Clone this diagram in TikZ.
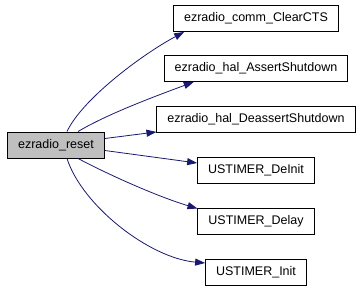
\documentclass[tikz,border=0pt]{standalone}
\usepackage{fontspec}
\setmainfont{Liberation Sans}
\usetikzlibrary{arrows.meta}

\definecolor{callblue}{HTML}{191970}
\definecolor{rootgray}{HTML}{BFBFBF}

\begin{document}
\begin{tikzpicture}[x=1pt, y=-1pt,
    fn/.style={draw=black, line width=0.9pt, fill=white, inner xsep=10.5pt,
               minimum height=26pt, font=\fontsize{12.5}{15}\selectfont},
    root/.style={fn, fill=rootgray},
    call/.style={draw=callblue, line width=0.8pt,
                 -{Triangle[length=10pt,width=7pt,fill=callblue]}}]

  %% ════ caller ════
  \node[root] (reset) at (56,145) {ezradio\_reset};

  %% ════ callees, one column ════
  \node[fn] (clearcts)  at (256,18.5)  {ezradio\_comm\_ClearCTS};
  \node[fn] (assert)    at (256,68.5)  {ezradio\_hal\_AssertShutdown};
  \node[fn] (deassert)  at (256,119.5) {ezradio\_hal\_DeassertShutdown};
  \node[fn] (deinit)    at (256,170.5) {USTIMER\_DeInit};
  \node[fn] (delay)     at (256,221)   {USTIMER\_Delay};
  \node[fn] (init)      at (256,272)   {USTIMER\_Init};

  %% ════ calls ════
  \draw[call] ([xshift=11pt]reset.north) .. controls +(15,-32) and +(-43,23) .. ([xshift=11pt]clearcts.south west);
  \draw[call] ([xshift=22pt]reset.north) .. controls +(30,-18) and +(-35,13) .. ([xshift=30pt]assert.south west);
  \draw[call] ([yshift=6.5pt]reset.east) -- ([yshift=1pt]deassert.south west);
  \draw[call] ([yshift=-5.5pt]reset.east) -- ([yshift=7.5pt]deinit.west);
  \draw[call] ([xshift=22pt]reset.south) .. controls +(30,16) and +(-40,-12) .. ([yshift=-1pt]delay.north west);
  \draw[call] ([xshift=11pt]reset.south) .. controls +(15,47) and +(-56,-5) .. ([yshift=9pt]init.west);

  \pgfresetboundingbox
  \path[use as bounding box] (0,0) rectangle (363,291);
\end{tikzpicture}
\end{document}
